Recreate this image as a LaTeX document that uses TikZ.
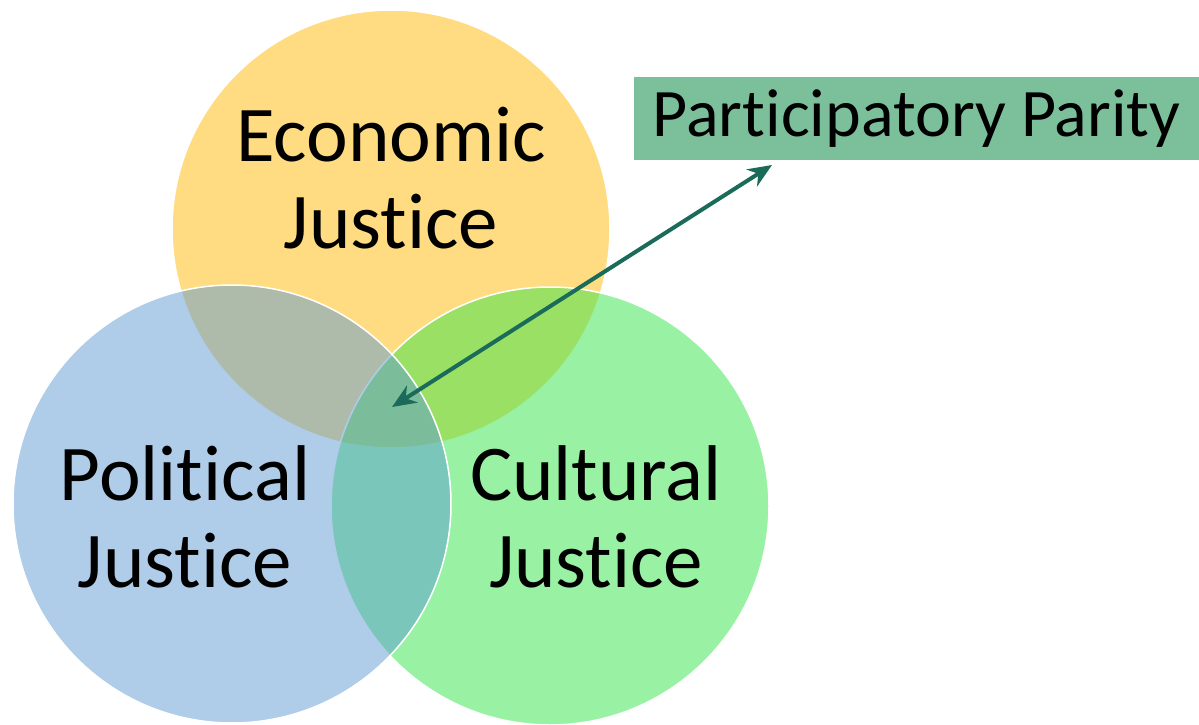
\documentclass[tikz,border=0pt]{standalone}
\usepackage{fontspec}
\setmainfont[Ligatures=NoCommon]{Carlito}
\usetikzlibrary{arrows.meta}

\definecolor{ecoC}{RGB}{255,185,5}
\definecolor{polC}{RGB}{95,155,211}
\definecolor{culC}{RGB}{51,229,71}
\definecolor{arrC}{RGB}{27,107,90}
\definecolor{boxC}{RGB}{124,192,155}

\tikzstyle{cS}=[circle,minimum size = 438pt,inner sep = 0pt,draw=white,line width=1.5pt,fill opacity=0.5]
\tikzstyle{tS}=[inner sep = 0pt,align=center,anchor=base,font=\fontsize{79}{87}\selectfont]
\tikzstyle{bS}=[fill=boxC,minimum width = 565pt,minimum height = 83pt,inner sep = 0pt,font=\fontsize{68}{80}\selectfont]
\tikzstyle{aS}=[draw=arrC,line width=4pt,{Stealth[length=24pt,width=20pt]}-{Stealth[length=24pt,width=20pt]}]

\begin{document}
\begin{tikzpicture}[x=1pt,y=-1pt]
    \useasboundingbox (0,0) rectangle (1199,725);
    \draw (391,229) node[cS,fill=ecoC] (eco) {};
    \draw (550,506) node[cS,fill=culC] (cul) {};
    \draw (232,504) node[cS,fill=polC] (pol) {};

    \draw (391,248) node[tS] (ecoT) {Economic\\Justice};
    \draw (185,587) node[tS] (polT) {Political\\Justice};
    \draw (596,587) node[tS] (culT) {Cultural\\Justice};

    \draw (916.5,118.5) node[bS] (parity) {Participatory Parity};
    \coordinate (parityEnd) at (772,165);
    \coordinate (coreEnd) at (392,407);

    \path (coreEnd) edge[aS] (parityEnd);
\end{tikzpicture}
\end{document}
